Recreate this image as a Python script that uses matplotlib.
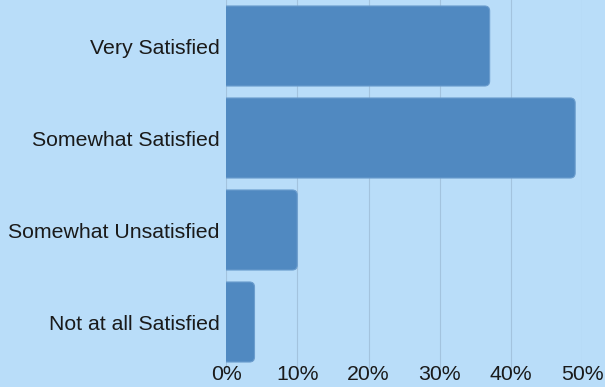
import matplotlib
matplotlib.use('Agg')
import matplotlib.pyplot as plt
from matplotlib.patches import FancyBboxPatch
import numpy as np

# satisfaction survey results (percent of respondents)
categories = ['Very Satisfied', 'Somewhat Satisfied', 'Somewhat Unsatisfied', 'Not at all Satisfied']
percent = [37, 49, 10, 4]
xticks = [0, 10, 20, 30, 40, 50]
xtick_labels = ['0%', '10%', '20%', '30%', '40%', '50%']

BG = '#b9ddf9'
BAR = '#5089c1'
EDGE = '#6b9dce'
GRID = '#a3c3de'

plt.rcParams['font.family'] = ['Liberation Sans', 'DejaVu Sans']

fig = plt.figure(figsize=(6.05, 3.87), dpi=100)
fig.patch.set_facecolor(BG)
ax = fig.add_axes([226 / 605, 1 - 368 / 387, 356.3 / 605, 368 / 387])
ax.set_facecolor(BG)

ypos = np.arange(len(categories))
ax.set_xlim(0, 50)
ax.set_ylim(len(categories) - 0.5, -0.5)

# rounded bars: the left corners fall outside the axes and get clipped
height = 0.87
x_per_px = 50 / 356.3
y_per_px = 4 / 368
r = 5 * x_per_px
aspect = (5 * y_per_px) / r
for y, v in zip(ypos, percent):
    p = FancyBboxPatch((-2, y - height / 2), v + 2, height,
                       boxstyle='round,pad=0,rounding_size=%f' % r,
                       mutation_aspect=aspect, facecolor=BAR, edgecolor=EDGE,
                       linewidth=0.8, zorder=3)
    ax.add_patch(p)

ax.set_xticks(xticks)
ax.set_xticklabels(xtick_labels, fontsize=15.3, color='#1a1a1a')
ax.set_yticks(ypos)
ax.set_yticklabels(categories, fontsize=15.3, color='#1a1a1a')
ax.tick_params(axis='both', length=0)
ax.tick_params(axis='y', pad=4.5)
ax.tick_params(axis='x', pad=-2)
ax.grid(axis='x', color=GRID, linewidth=0.8, zorder=0)
ax.set_axisbelow(True)
for s in ax.spines.values():
    s.set_visible(False)

plt.savefig('out.png', dpi=100, facecolor=BG)
